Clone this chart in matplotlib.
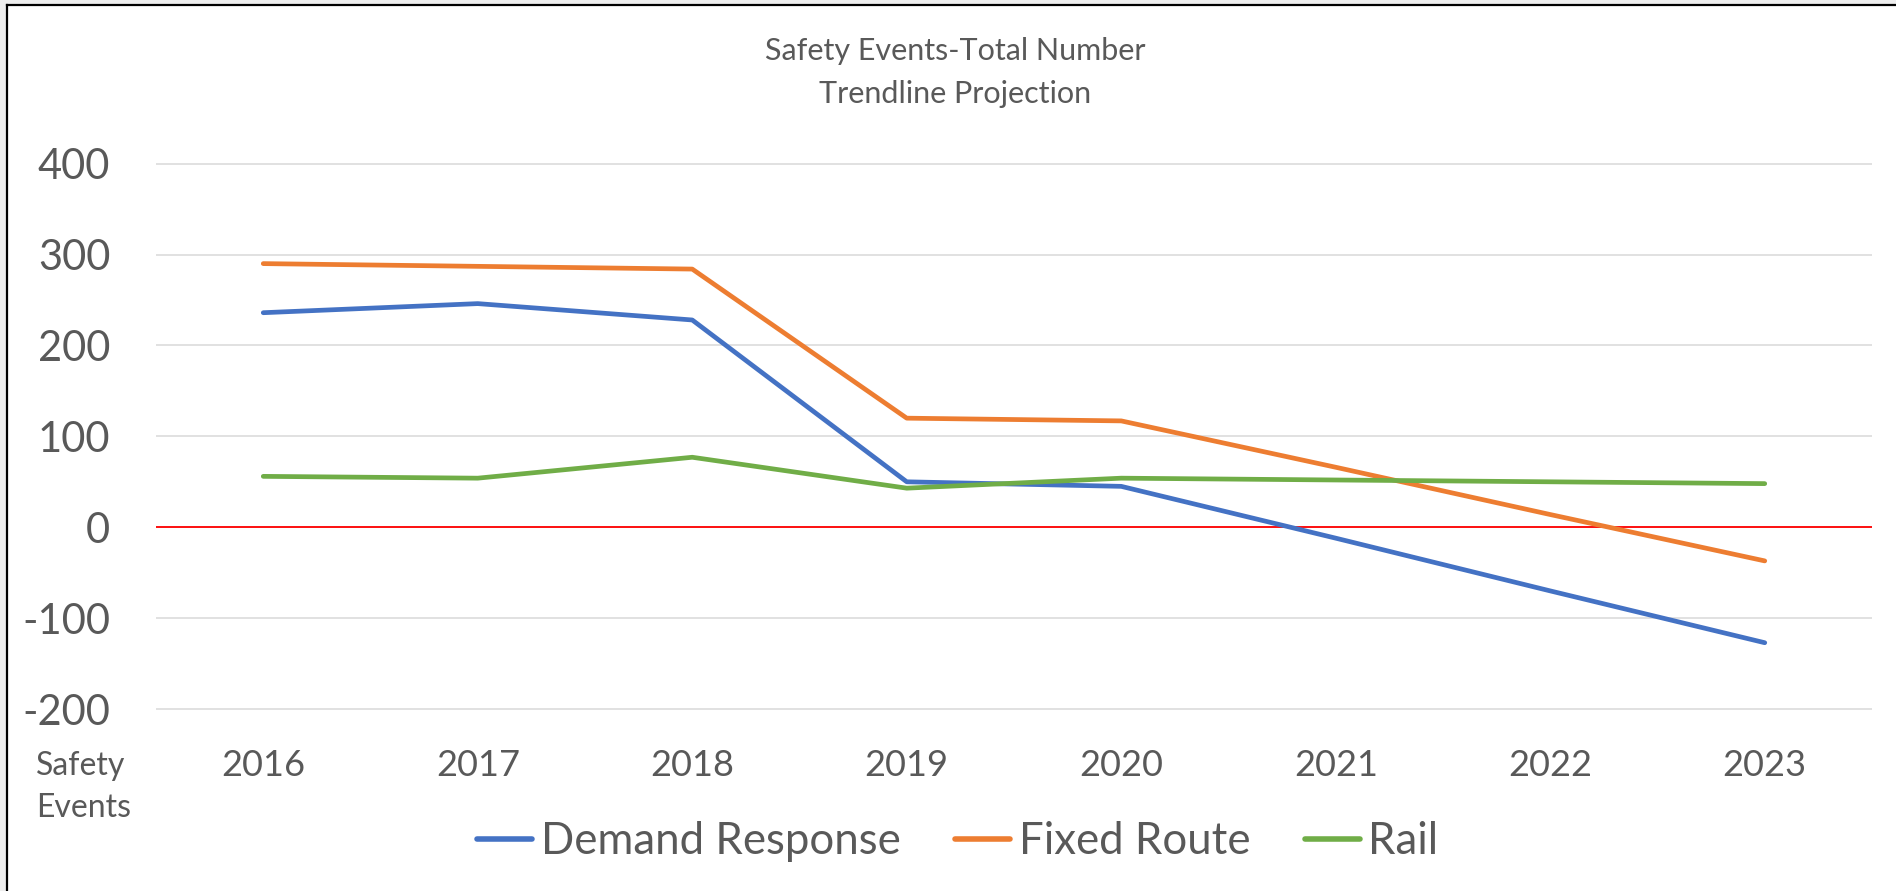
import matplotlib
matplotlib.use("Agg")
import matplotlib.pyplot as plt
from matplotlib.lines import Line2D
from matplotlib.patches import Rectangle

years = ["2016", "2017", "2018", "2019", "2020", "2021", "2022", "2023"]
demand_response = [236, 246, 228, 50, 45, -12, -70, -127]
fixed_route = [290, 287, 284, 120, 117, 66, 14, -37]
rail = [56, 54, 77, 43, 54, 52, 50, 48]
y_ticks = [-200, -100, 0, 100, 200, 300, 400]

FONT = "Lato"
GRAY = "#595959"

W, H = 1896, 891
fig = plt.figure(figsize=(W / 100, H / 100), dpi=100)
fig.patch.set_facecolor("white")

# outer frame (gray margin + black border on left/top)
fig.add_artist(Rectangle((0, 0), 5 / W, 1, transform=fig.transFigure, color="#eeeeee", zorder=0))
fig.add_artist(Rectangle((0, 1 - 3 / H), 1, 3 / H, transform=fig.transFigure, color="#eeeeee", zorder=0))
fig.add_artist(Line2D([6.5 / W, 6.5 / W], [0, 1 - 5 / H], transform=fig.transFigure, color="black", lw=1.6))
fig.add_artist(Line2D([6.5 / W, 1], [1 - 5 / H, 1 - 5 / H], transform=fig.transFigure, color="black", lw=1.6))

ax = fig.add_axes([156 / W, 1 - 710 / H, (1872 - 156) / W, (710 - 162.7) / H])
x = list(range(len(years)))

style = dict(lw=3.4, solid_capstyle="round", solid_joinstyle="round", zorder=3)
ax.plot(x, demand_response, color="#4472C4", label="Demand Response", **style)
ax.plot(x, fixed_route, color="#ED7D31", label="Fixed Route", **style)
ax.plot(x, rail, color="#70AD47", label="Rail", **style)
ax.axhline(0, color="#ff0000", lw=1.3, zorder=2)

ax.set_xlim(-0.5, len(years) - 0.5)
ax.set_ylim(-201, 401)
ax.set_yticks(y_ticks)
ax.set_yticklabels([str(v) for v in y_ticks], fontsize=30, color=GRAY, family=FONT)
ax.set_xticks(x)
ax.set_xticklabels(years, fontsize=26, color=GRAY, family=FONT)
ax.tick_params(axis="y", length=0, pad=33)
ax.tick_params(axis="x", length=0, pad=28)
ax.grid(axis="y", color="#d9d9d9", lw=1.1, zorder=1)
ax.set_axisbelow(True)
for s in ax.spines.values():
    s.set_visible(False)

fig.text(36 / W, 1 - 766 / H, "Safety", fontsize=23, color=GRAY, family=FONT, ha="left", va="center")
fig.text(36 / W, 1 - 808 / H, "Events", fontsize=23, color=GRAY, family=FONT, ha="left", va="center")

fig.text(955 / W, 1 - 51 / H, "Safety Events-Total Number", fontsize=22, color=GRAY, family=FONT, ha="center", va="center")
fig.text(955 / W, 1 - 94 / H, "Trendline Projection", fontsize=22, color=GRAY, family=FONT, ha="center", va="center")

leg = fig.legend(loc="center", bbox_to_anchor=(958 / W, 1 - 842 / H), ncol=3, frameon=False,
                 prop={"family": FONT, "size": 31.5}, handlelength=1.25, handletextpad=0.2,
                 columnspacing=1.25, labelcolor=GRAY)
for h in leg.legend_handles:
    h.set_linewidth(4)

fig.savefig("out.png", dpi=100, facecolor="white")
